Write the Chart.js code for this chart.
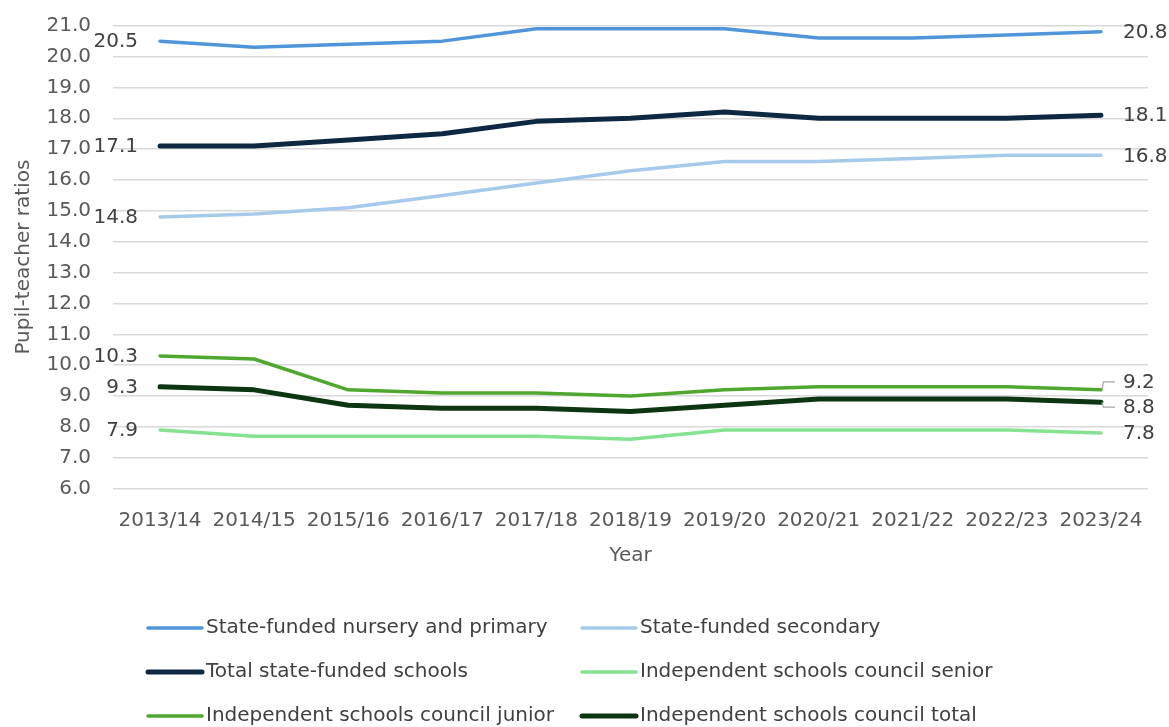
<!DOCTYPE html>
<html>
<head>
<meta charset="utf-8">
<script src="https://cdn.jsdelivr.net/npm/chart.js@4/dist/chart.umd.min.js"></script>
<style>
  html, body { margin: 0; padding: 0; background: #ffffff; }
  #wrap { width: 1169px; height: 727px; position: relative; }
</style>
</head>
<body>
<div id="wrap"><canvas id="c" width="1169" height="727"></canvas></div>
<script>
// Academic years on the x axis
const years = ['2013/14','2014/15','2015/16','2016/17','2017/18','2018/19','2019/20','2020/21','2021/22','2022/23','2023/24'];

// Pupil-teacher ratios by school type
const nurseryPrimary   = [20.5, 20.3, 20.4, 20.5, 20.9, 20.9, 20.9, 20.6, 20.6, 20.7, 20.8];
const secondary        = [14.8, 14.9, 15.1, 15.5, 15.9, 16.3, 16.6, 16.6, 16.7, 16.8, 16.8];
const totalState       = [17.1, 17.1, 17.3, 17.5, 17.9, 18.0, 18.2, 18.0, 18.0, 18.0, 18.1];
const iscSenior        = [7.9, 7.7, 7.7, 7.7, 7.7, 7.6, 7.9, 7.9, 7.9, 7.9, 7.8];
const iscJunior        = [10.3, 10.2, 9.2, 9.1, 9.1, 9.0, 9.2, 9.3, 9.3, 9.3, 9.2];
const iscTotal         = [9.3, 9.2, 8.7, 8.6, 8.6, 8.5, 8.7, 8.9, 8.9, 8.9, 8.8];

const seriesNames = [
  'State-funded nursery and primary',
  'State-funded secondary',
  'Total state-funded schools',
  'Independent schools council senior',
  'Independent schools council junior',
  'Independent schools council total'
];

// Y axis range and step
const yMin = 6, yMax = 21, yStep = 1;

const FONT = '"DejaVu Sans", sans-serif';
const TEXT_GREY = '#595959';
const LABEL_DARK = '#404040';

function line(label, data, color, width) {
  return {
    label, data,
    borderColor: color, backgroundColor: color,
    borderWidth: width, pointRadius: 0, pointHoverRadius: 0,
    tension: 0, fill: false,
    borderCapStyle: 'round', borderJoinStyle: 'round'
  };
}

const datasets = [
  line(seriesNames[0], nurseryPrimary, '#4E95D9', 3.5),
  line(seriesNames[1], secondary,      '#A6CAEC', 3.5),
  line(seriesNames[2], totalState,     '#0E2841', 5),
  line(seriesNames[3], iscSenior,      '#84E291', 3.5),
  line(seriesNames[4], iscJunior,      '#4EA72E', 3.5),
  line(seriesNames[5], iscTotal,       '#0D3512', 5)
];

// Vertical nudges for the closing labels that would otherwise collide (with leader lines)
const endLabelShift = [0, 0, 0, 0, -8, 5];

const valueLabels = {
  id: 'valueLabels',
  afterDatasetsDraw(chart) {
    const ctx = chart.ctx;
    ctx.save();
    ctx.font = '20px ' + FONT;
    ctx.fillStyle = LABEL_DARK;
    ctx.textBaseline = 'middle';
    chart.data.datasets.forEach((ds, i) => {
      const meta = chart.getDatasetMeta(i);
      const first = meta.data[0];
      const last = meta.data[meta.data.length - 1];
      ctx.textAlign = 'right';
      ctx.fillText(ds.data[0].toFixed(1), first.x - 22, first.y + 1);
      const shift = endLabelShift[i];
      ctx.textAlign = 'left';
      ctx.fillText(ds.data[ds.data.length - 1].toFixed(1), last.x + 22, last.y + shift + 1);
      if (shift !== 0) {
        ctx.strokeStyle = '#A6A6A6';
        ctx.lineWidth = 1.2;
        ctx.beginPath();
        ctx.moveTo(last.x + 1, last.y);
        ctx.lineTo(last.x + 2.5, last.y + shift);
        ctx.lineTo(last.x + 14, last.y + shift);
        ctx.stroke();
      }
    });
    ctx.restore();
  }
};

// Two-column legend beneath the axis
const twoColLegend = {
  id: 'twoColLegend',
  afterDraw(chart) {
    const ctx = chart.ctx;
    const cols = [148, 582];
    const rows = [628, 672, 716];
    ctx.save();
    ctx.font = '20px ' + FONT;
    ctx.fillStyle = LABEL_DARK;
    ctx.textBaseline = 'middle';
    ctx.textAlign = 'left';
    chart.data.datasets.forEach((ds, i) => {
      const x = cols[i % 2];
      const y = rows[Math.floor(i / 2)];
      ctx.strokeStyle = ds.borderColor;
      ctx.lineWidth = ds.borderWidth;
      ctx.lineCap = 'round';
      ctx.beginPath();
      ctx.moveTo(x, y);
      ctx.lineTo(x + 54, y);
      ctx.stroke();
      ctx.fillText(ds.label, x + 58, y);
    });
    ctx.restore();
  }
};

new Chart(document.getElementById('c'), {
  type: 'line',
  data: { labels: years, datasets },
  options: {
    responsive: false,
    animation: false,
    devicePixelRatio: 1,
    layout: { padding: { top: 25.7, right: 21, bottom: 159, left: 0 } },
    plugins: {
      legend: { display: false },
      tooltip: { enabled: false }
    },
    scales: {
      x: {
        type: 'category',
        offset: true,
        grid: { display: false, drawTicks: false },
        border: { display: false },
        ticks: { color: TEXT_GREY, font: { family: FONT, size: 20 }, padding: 20, maxRotation: 0, autoSkip: false },
        title: { display: true, text: 'Year', color: TEXT_GREY, font: { family: FONT, size: 20 }, padding: 0 },
        afterFit(scale) { scale.height = 79.4; scale.paddingLeft = 0; scale.paddingRight = 0; }
      },
      y: {
        min: yMin, max: yMax,
        grid: { color: '#D9D9D9', lineWidth: 1.5, drawTicks: false },
        border: { display: false },
        ticks: {
          stepSize: yStep, color: TEXT_GREY, font: { family: FONT, size: 20 }, padding: 22,
          callback: v => Number(v).toFixed(1)
        },
        title: { display: true, text: 'Pupil-teacher ratios', color: TEXT_GREY, font: { family: FONT, size: 20 }, padding: { top: 12, bottom: 0 } },
        afterFit(scale) { scale.width = 113; scale.paddingTop = 0; scale.paddingBottom = 0; }
      }
    }
  },
  plugins: [valueLabels, twoColLegend]
});
</script>
</body>
</html>
